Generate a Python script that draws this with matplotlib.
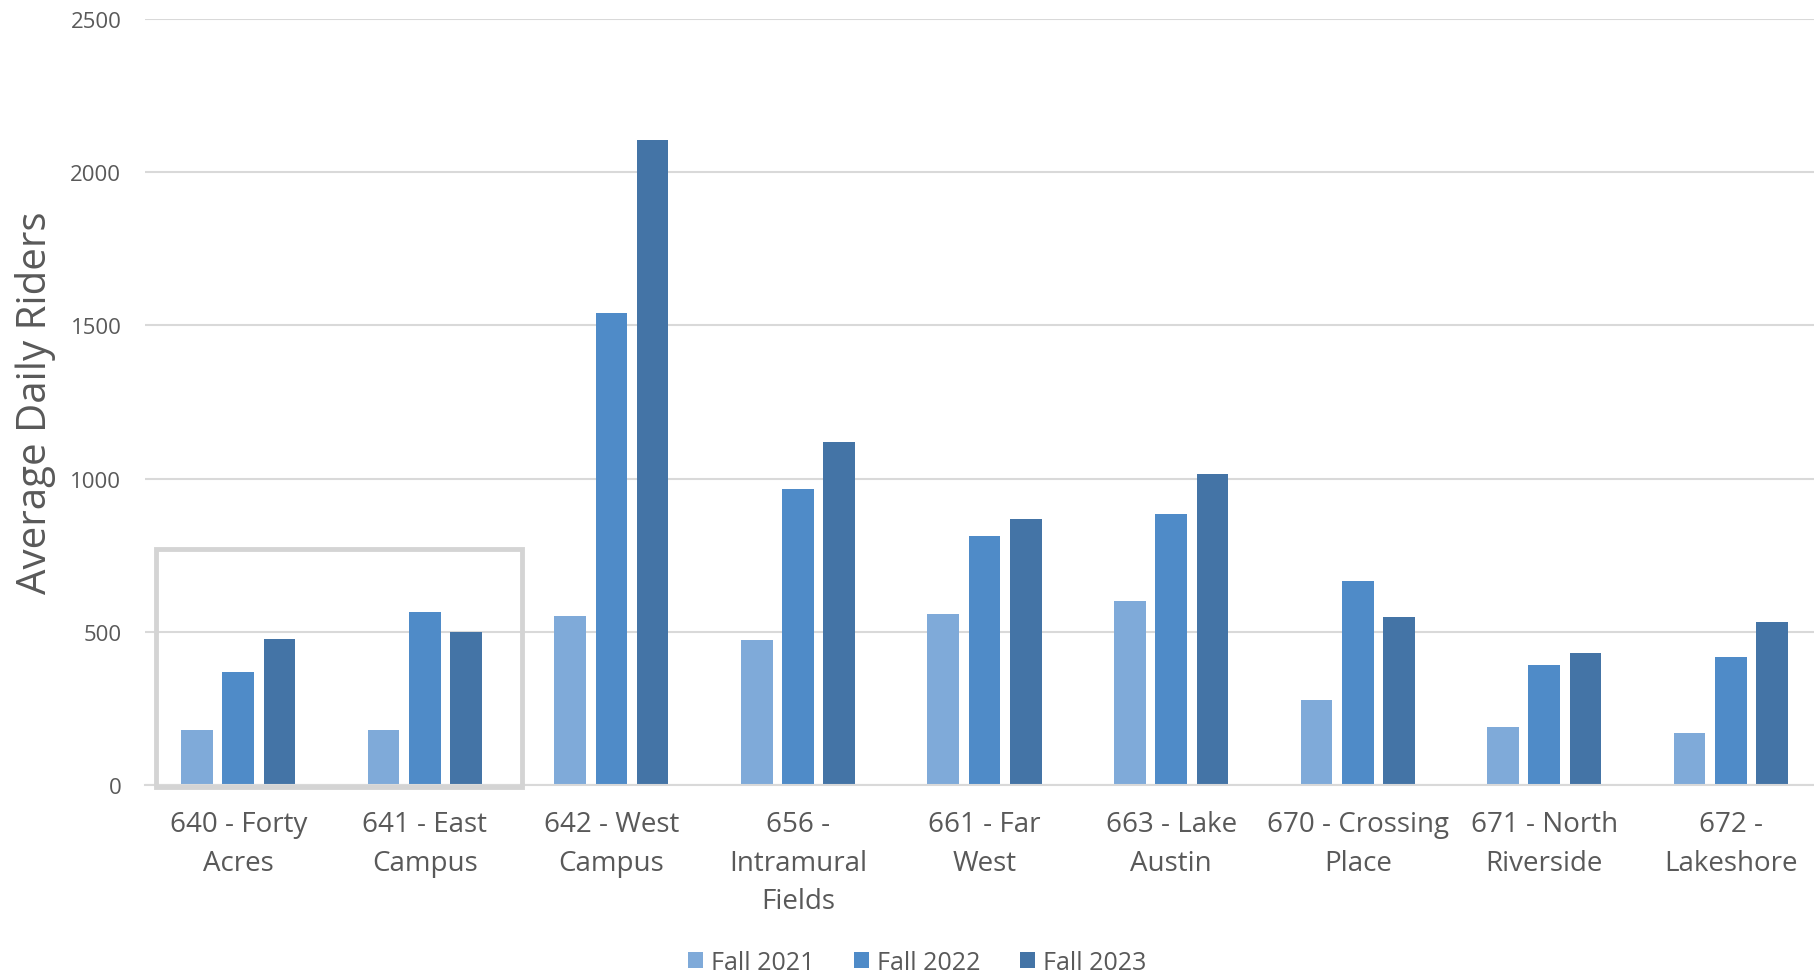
import matplotlib
matplotlib.use("Agg")
import matplotlib.pyplot as plt
from matplotlib.patches import Rectangle
import numpy as np

plt.rcParams["font.family"] = ["Open Sans", "DejaVu Sans"]

routes = [
    "640 - Forty\nAcres",
    "641 - East\nCampus",
    "642 - West\nCampus",
    "656 -\nIntramural\nFields",
    "661 - Far\nWest",
    "663 - Lake\nAustin",
    "670 - Crossing\nPlace",
    "671 - North\nRiverside",
    "672 -\nLakeshore",
]
fall_2021 = [178, 179, 551, 473, 557, 601, 277, 190, 170]
fall_2022 = [370, 566, 1539, 965, 812, 883, 666, 391, 417]
fall_2023 = [476, 498, 2104, 1120, 868, 1016, 547, 432, 532]
seasons = ["Fall 2021", "Fall 2022", "Fall 2023"]
colors = ["#7faad9", "#4f8bc8", "#4474a6"]

# routes outlined with a box (first two groups)
highlight = (0, 1)

TEXT = "#595959"
GRID = "#d9d9d9"

fig = plt.figure(figsize=(18.14, 9.78), dpi=100)
ax = fig.add_axes([0.0799, 0.1963, 0.9257, 0.7834])

x = np.arange(len(routes))
w = 0.17
pitch = 0.221
for k, (vals, lab, col) in enumerate(zip([fall_2021, fall_2022, fall_2023], seasons, colors)):
    ax.bar(x + (k - 1) * pitch, vals, w, color=col, label=lab, zorder=3)

ax.set_xlim(-0.5, len(routes) - 0.5)
ax.set_ylim(0, 2500)
ax.set_yticks(np.arange(0, 2501, 500))
ax.set_xticks(x)
ax.set_xticklabels(routes, fontsize=20, color=TEXT, linespacing=1.5)
ax.tick_params(axis="x", length=0, pad=18)
ax.tick_params(axis="y", length=0, pad=17, labelsize=16, labelcolor=TEXT)
ax.grid(axis="y", color=GRID, linewidth=1.5, zorder=0)
for s in ["top", "right", "left"]:
    ax.spines[s].set_visible(False)
ax.spines["bottom"].set_color(GRID)
ax.spines["bottom"].set_linewidth(1.5)
ax.spines["bottom"].set_zorder(4)

ax.set_ylabel("Average Daily Riders", fontsize=29, color=TEXT, labelpad=10)

box = Rectangle((highlight[0] - 0.44, -8), highlight[1] - highlight[0] + 0.96, 778,
                fill=False, edgecolor="#d4d4d4", linewidth=3.5, zorder=5,
                clip_on=False)
ax.add_patch(box)

handles, labels = ax.get_legend_handles_labels()
fig.legend(handles, labels, loc="center", bbox_to_anchor=(0.5055, 0.0153),
           ncol=3, frameon=False, fontsize=18, labelcolor=TEXT,
           handlelength=0.6, handleheight=0.6, handletextpad=0.3,
           columnspacing=1.6)

fig.savefig("out.png", dpi=100)
